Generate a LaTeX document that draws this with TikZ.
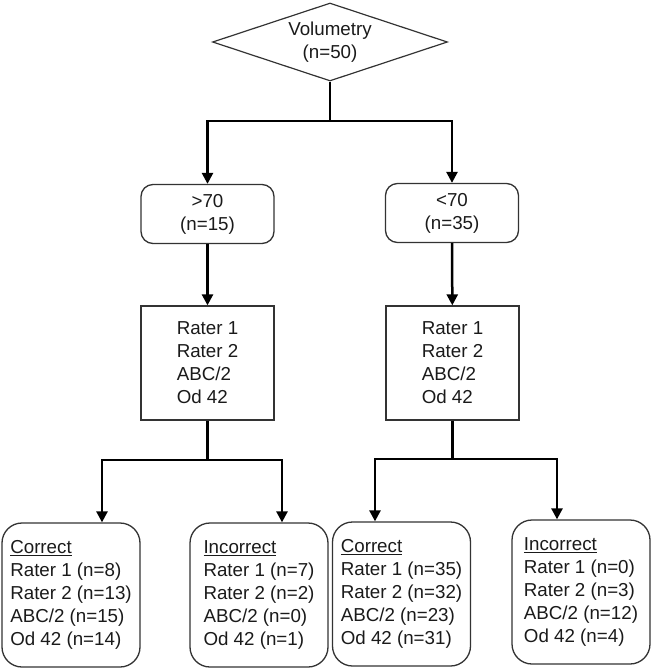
\documentclass[tikz,border=0pt]{standalone}
\usepackage{fontspec}
\setmainfont{Liberation Sans}
\usetikzlibrary{shapes.geometric,arrows.meta}
\definecolor{boxline}{HTML}{333333}
\definecolor{txt}{HTML}{1A1A1A}
\begin{document}
\begin{tikzpicture}[
    x=1pt, y=-1pt,
    every node/.style={font=\fontsize{18.75}{23}\selectfont, text=txt},
    decision/.style={diamond, aspect=3, draw=boxline, line width=1.2pt, minimum width=235pt, minimum height=78pt, inner sep=0pt, align=center},
    group/.style={draw=boxline, line width=1.3pt, rounded corners=12pt, minimum width=133pt, minimum height=59pt, align=center},
    method/.style={draw=boxline, line width=1.3pt, minimum width=133pt, minimum height=114pt, align=left},
    result/.style={draw=boxline, line width=1.3pt, rounded corners=20pt, minimum height=144pt, minimum width=138pt, align=left},
    link/.style={line width=2.5pt},
    arr/.style={line width=2.5pt, -{Triangle[length=11pt,width=11pt]}},
]
\useasboundingbox (0,0) rectangle (653,670);

% Top decision
\node[decision] (vol) at (330,42) {Volumetry\\(n=50)};

% Groups
\node[group] (gt) at (207.5,214) {>70\\(n=15)};
\node[group] (lt) at (452,213) {<70\\(n=35)};

% Methods
\node[method] (methL) at (207.5,363) {Rater 1\\Rater 2\\ABC/2\\Od 42};
\node[method] (methR) at (452.5,363) {Rater 1\\Rater 2\\ABC/2\\Od 42};

% Results
\node[result] (corL) at (71,595) {\underline{Correct}\\Rater 1 (n=8)\\Rater 2 (n=13)\\ABC/2 (n=15)\\Od 42 (n=14)};
\node[result] (incL) at (259,595) {\underline{Incorrect}\\Rater 1 (n=7)\\Rater 2 (n=2)\\ABC/2 (n=0)\\Od 42 (n=1)};
\node[result] (corR) at (401.5,594) {\underline{Correct}\\Rater 1 (n=35)\\Rater 2 (n=32)\\ABC/2 (n=23)\\Od 42 (n=31)};
\node[result] (incR) at (581,592) {\underline{Incorrect}\\Rater 1 (n=0)\\Rater 2 (n=3)\\ABC/2 (n=12)\\Od 42 (n=4)};

% Junction points
\coordinate (splitTop) at (330,121);
\coordinate (splitL) at (207.5,460);
\coordinate (splitR) at (452.5,459);
\coordinate (jCorL) at (102,460);
\coordinate (jIncL) at (282,460);
\coordinate (jCorR) at (375,459);
\coordinate (jIncR) at (557,459);

% Connectors
\draw[link] (vol.south) -- (splitTop);
\draw[arr] (splitTop) -| (gt.north);
\draw[arr] (splitTop) -| (lt.north);
\draw[arr] (gt) -- (methL);
\draw[arr] (lt) -- (methR);

\draw[link] (methL.south) -- (splitL);
\draw[arr] (splitL) -- (jCorL) -- (jCorL |- corL.north);
\draw[arr] (splitL) -- (jIncL) -- (jIncL |- incL.north);
\draw[link] (methR.south) -- (splitR);
\draw[arr] (splitR) -- (jCorR) -- (jCorR |- corR.north);
\draw[arr] (splitR) -- (jIncR) -- (jIncR |- incR.north);

\end{tikzpicture}
\end{document}
